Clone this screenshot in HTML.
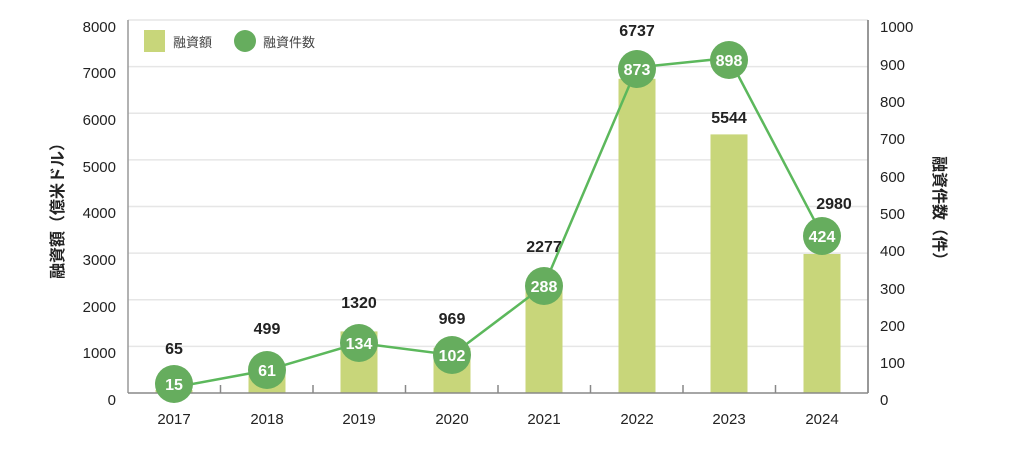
<!DOCTYPE html>
<html><head><meta charset="utf-8"><style>
body{margin:0;background:#fff;}
svg{display:block;font-family:"Liberation Sans","Noto Sans CJK JP",sans-serif;}
</style></head><body>
<svg width="1024" height="455" viewBox="0 0 1024 455">
<g stroke="#e6e6e6" stroke-width="1.5">
<line x1="128" x2="868" y1="20" y2="20"/><line x1="128" x2="868" y1="66.6" y2="66.6"/>
<line x1="128" x2="868" y1="113.3" y2="113.3"/><line x1="128" x2="868" y1="159.9" y2="159.9"/>
<line x1="128" x2="868" y1="206.5" y2="206.5"/><line x1="128" x2="868" y1="253.1" y2="253.1"/>
<line x1="128" x2="868" y1="299.8" y2="299.8"/><line x1="128" x2="868" y1="346.4" y2="346.4"/>
</g>
<g fill="#c8d67a">
<rect x="155.5" y="390" width="37" height="3"/>
<rect x="248.5" y="369.7" width="37" height="23.3"/>
<rect x="340.5" y="331.4" width="37" height="61.6"/>
<rect x="433.5" y="347.8" width="37" height="45.2"/>
<rect x="525.5" y="286.8" width="37" height="106.2"/>
<rect x="618.5" y="78.8" width="37" height="314.2"/>
<rect x="710.5" y="134.4" width="37" height="258.6"/>
<rect x="803.5" y="254" width="37" height="139"/>
</g>
<line x1="128" y1="20" x2="128" y2="393" stroke="#999" stroke-width="1.5"/>
<line x1="868" y1="20" x2="868" y2="393" stroke="#777" stroke-width="1.5"/>
<line x1="128" y1="393" x2="868" y2="393" stroke="#888" stroke-width="1.5"/>
<g stroke="#888" stroke-width="1.5">
<line x1="220.5" x2="220.5" y1="385" y2="393"/><line x1="313" x2="313" y1="385" y2="393"/>
<line x1="405.5" x2="405.5" y1="385" y2="393"/><line x1="498" x2="498" y1="385" y2="393"/>
<line x1="590.5" x2="590.5" y1="385" y2="393"/><line x1="683" x2="683" y1="385" y2="393"/>
<line x1="775.5" x2="775.5" y1="385" y2="393"/>
</g>
<polyline fill="none" stroke="#5cb85c" stroke-width="2.5" points="174,387.4 267,370.2 359,343 452,355 544,285.6 637,67.4 729,58 822,234.8"/>
<g fill="#66ad5e">
<circle cx="174" cy="384" r="19"/><circle cx="267" cy="370" r="19"/><circle cx="359" cy="343" r="19"/><circle cx="452" cy="355" r="19"/>
<circle cx="544" cy="286" r="19"/><circle cx="637" cy="69" r="19"/><circle cx="729" cy="60" r="19"/><circle cx="822" cy="236" r="19"/>
</g>
<g fill="#fff" font-size="16" font-weight="bold" text-anchor="middle">
<text x="174" y="390">15</text><text x="267" y="376">61</text><text x="359" y="349">134</text><text x="452" y="361">102</text>
<text x="544" y="292">288</text><text x="637" y="75">873</text><text x="729" y="66">898</text><text x="822" y="242">424</text>
</g>
<g fill="#222" font-size="16" font-weight="bold" text-anchor="middle">
<text x="174" y="354">65</text><text x="267" y="334">499</text><text x="359" y="308">1320</text><text x="452" y="324">969</text>
<text x="544" y="252">2277</text><text x="637" y="36">6737</text><text x="729" y="123">5544</text><text x="834" y="209">2980</text>
</g>
<g fill="#222" font-size="15" text-anchor="middle">
<text x="174" y="424">2017</text><text x="267" y="424">2018</text><text x="359" y="424">2019</text><text x="452" y="424">2020</text>
<text x="544" y="424">2021</text><text x="637" y="424">2022</text><text x="729" y="424">2023</text><text x="822" y="424">2024</text>
</g>
<g fill="#222" font-size="15" text-anchor="end">
<text x="116" y="32">8000</text><text x="116" y="78">7000</text><text x="116" y="125">6000</text><text x="116" y="172">5000</text>
<text x="116" y="218">4000</text><text x="116" y="265">3000</text><text x="116" y="312">2000</text><text x="116" y="358">1000</text><text x="116" y="405">0</text>
</g>
<g fill="#222" font-size="15">
<text x="880" y="32">1000</text><text x="880" y="70">900</text><text x="880" y="107">800</text><text x="880" y="144">700</text>
<text x="880" y="182">600</text><text x="880" y="219">500</text><text x="880" y="256">400</text><text x="880" y="294">300</text>
<text x="880" y="331">200</text><text x="880" y="368">100</text><text x="880" y="405">0</text>
</g>
<text transform="translate(63,207) rotate(-90)" text-anchor="middle" font-size="16" font-weight="bold" fill="#222">融資額（億米ドル）</text>
<text transform="translate(934,212) rotate(90)" text-anchor="middle" font-size="16" font-weight="bold" fill="#222">融資件数（件）</text>
<rect x="144" y="30" width="21" height="22" fill="#c8d67a"/>
<text x="173" y="47" font-size="13" fill="#444">融資額</text>
<circle cx="245" cy="41" r="11" fill="#66ad5e"/>
<text x="263" y="47" font-size="13" fill="#444">融資件数</text>
</svg>
</body></html>
